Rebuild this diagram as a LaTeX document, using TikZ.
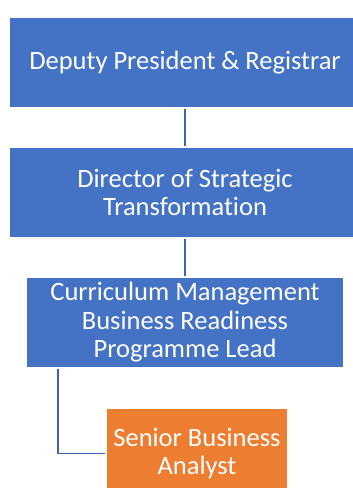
\documentclass[tikz,border=0pt]{standalone}
\usepackage{fontspec}
\setmainfont{Carlito}[Ligatures=NoCommon]
\usepackage{tikz}
\usetikzlibrary{positioning}
\definecolor{roleblue}{HTML}{4472C4}
\definecolor{roleorange}{HTML}{ED7D31}
\definecolor{linkblue}{HTML}{3B65B5}

\begin{document}
\begin{tikzpicture}[x=1pt,y=-1pt,
	rolebox/.style={fill=roleblue, text=white, align=center, minimum height=89pt, inner sep=0pt, font=\fontsize{26.5}{28.5}\selectfont},
	link/.style={draw=linkblue, line width=1.8pt, shorten >=2pt, shorten <=2pt}]
		\useasboundingbox (0,0) rectangle (353,488);
		\clip (0,0) rectangle (353,488);
		\draw (185,62.5)  node[rolebox, minimum width=350pt] (dpr) {Deputy President \& Registrar}
		(185,192.5) node[rolebox, minimum width=350pt] (dst) {Director of Strategic\\Transformation}
		(185,322.5) node[rolebox, minimum width=316pt] (cmb) {Curriculum Management\\Business Readiness\\Programme Lead}
		(197,453.5) node[rolebox, fill=roleorange, minimum width=180pt] (sba) {Senior Business\\Analyst};
		\coordinate (elbow) at (58,0);

		\draw[link] (dpr) -- (dst);
		\draw[link] (dst) -- (cmb);
		\draw[link] (cmb.south -| elbow) |- (sba.west);
	\end{tikzpicture}
\end{document}
